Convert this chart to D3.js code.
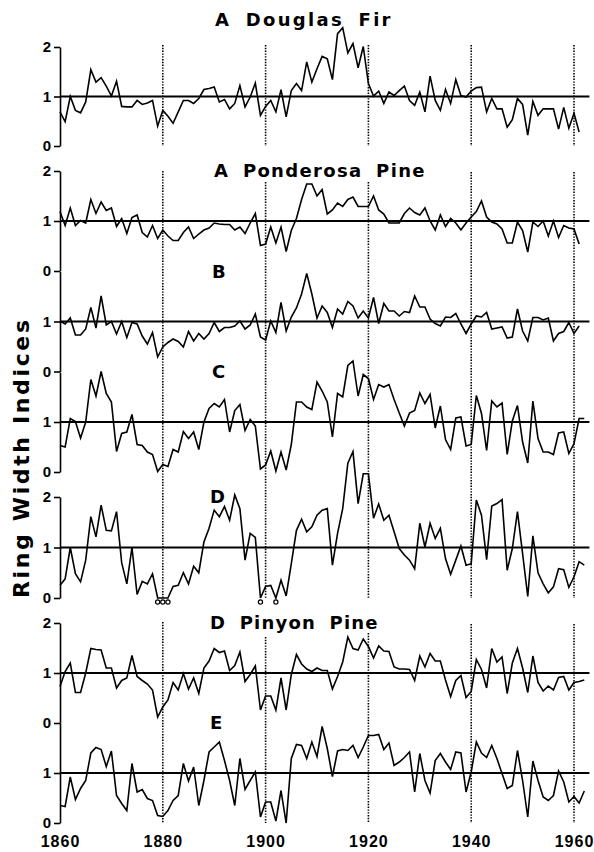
<!DOCTYPE html>
<html>
<head>
<meta charset="utf-8">
<style>
  * { margin: 0; padding: 0; }
  body { background: #fff; }
  svg text { fill: #000; }
  .axis path, .axis line { stroke: #000; stroke-width: 1.6; }
  .axis text { font-family: 'Liberation Sans', sans-serif; font-size: 15px; font-weight: bold; }
  .years text { font-family: 'Liberation Sans', sans-serif; font-size: 16px; font-weight: bold; letter-spacing: 1px; }
  .series { fill: none; stroke: #000; stroke-width: 1.6; stroke-linejoin: miter; }
  .unity { stroke: #000; stroke-width: 1.9; }
  .decade { stroke: #000; stroke-width: 1.6; stroke-dasharray: 1.4,1.4; }
  .title { font-family: 'DejaVu Sans', sans-serif; font-size: 18px; font-weight: bold; letter-spacing: 1.5px; word-spacing: 6px; }
  .ylabel { font-family: 'DejaVu Sans', sans-serif; font-size: 22px; font-weight: bold; }
  .absent { fill: #fff; stroke: #000; stroke-width: 1.2; }
</style>
</head>
<body>
<div id="chart"></div>
<script src="https://cdn.jsdelivr.net/npm/d3@7"></script>
<script>
// ring width indices, one value per year starting 1860
const firstYear = 1860;

const douglasFirA = [
  0.69, 0.49, 1.00, 0.72, 0.67, 0.89, 1.54, 1.29, 1.38, 1.21,
  1.01, 1.31, 0.80, 0.79, 0.79, 0.92, 0.84, 0.87, 0.92, 0.40,
  0.72, 0.60, 0.46, 0.69, 0.92, 0.92, 0.86, 0.96, 1.14, 1.16,
  1.19, 0.89, 0.94, 0.75, 0.86, 1.22, 0.79, 0.99, 1.27, 0.62,
  0.80, 0.92, 0.69, 1.14, 0.59, 1.12, 1.26, 1.12, 1.70, 1.29,
  1.56, 1.81, 1.76, 1.34, 2.27, 2.39, 1.88, 2.07, 1.58, 2.01,
  1.26, 1.01, 1.11, 0.86, 1.09, 1.02, 1.12, 1.21, 0.92, 0.82,
  1.09, 0.69, 1.41, 0.92, 0.72, 1.14, 0.86, 1.34, 1.02, 0.99,
  1.11, 1.18, 1.19, 0.69, 0.96, 0.75, 0.75, 0.38, 0.53, 0.96,
  0.84, 0.22, 0.90, 0.62, 0.75, 0.75, 0.75, 0.34, 0.78, 0.36,
  0.66, 0.28
];

const ponderosaA = [
  1.19, 0.91, 1.26, 0.91, 1.01, 0.96, 1.43, 1.15, 1.38, 1.21,
  1.26, 0.89, 1.05, 0.75, 1.07, 1.12, 0.77, 0.68, 0.91, 0.65,
  0.82, 0.70, 0.61, 0.61, 0.77, 0.88, 0.65, 0.74, 0.82, 0.86,
  0.96, 0.94, 0.93, 0.93, 0.82, 0.88, 0.75, 0.96, 1.15, 0.51,
  0.54, 0.88, 0.56, 0.88, 0.39, 0.81, 1.05, 1.43, 1.74, 1.74,
  1.50, 1.63, 1.14, 1.22, 1.36, 1.29, 1.43, 1.48, 1.29, 1.29,
  1.29, 1.50, 1.22, 1.14, 0.96, 0.96, 0.96, 1.15, 1.26, 1.17,
  1.12, 1.26, 1.00, 0.82, 1.12, 0.89, 1.05, 0.96, 0.82, 0.96,
  1.08, 1.19, 1.40, 1.08, 0.98, 0.94, 0.84, 0.56, 0.56, 0.98,
  0.81, 0.38, 0.98, 0.89, 1.00, 0.70, 1.00, 0.67, 0.91, 0.86,
  0.84, 0.54
];

const ponderosaB = [
  1.01, 0.95, 1.07, 0.73, 0.73, 0.85, 1.28, 0.87, 1.51, 0.93,
  1.00, 0.75, 1.00, 0.68, 0.98, 0.95, 0.71, 0.55, 0.78, 0.29,
  0.49, 0.58, 0.65, 0.60, 0.49, 0.80, 0.61, 0.76, 0.65, 0.76,
  0.98, 0.80, 0.88, 0.88, 0.91, 1.01, 0.85, 0.93, 1.15, 0.69,
  0.63, 1.01, 0.78, 1.38, 0.81, 1.09, 1.27, 1.55, 1.96, 1.55,
  1.07, 1.31, 1.18, 0.88, 1.25, 1.15, 1.40, 1.31, 1.07, 1.21,
  1.07, 1.48, 0.96, 1.36, 1.21, 1.21, 1.11, 1.20, 1.18, 1.51,
  1.29, 1.29, 1.05, 0.96, 0.91, 1.09, 1.08, 1.16, 0.95, 0.76,
  0.95, 1.11, 1.09, 1.18, 0.85, 0.87, 0.89, 0.67, 0.69, 1.25,
  0.81, 0.61, 1.08, 1.08, 1.03, 1.07, 0.61, 0.76, 0.80, 0.98,
  0.76, 0.91
];

const ponderosaC = [
  0.53, 0.50, 1.07, 1.01, 0.68, 1.00, 1.85, 1.52, 2.01, 1.57,
  1.40, 0.41, 0.77, 0.80, 1.15, 0.55, 0.53, 0.40, 0.35, 0.01,
  0.15, 0.11, 0.45, 0.40, 0.81, 0.67, 0.80, 0.45, 1.00, 1.27,
  1.37, 1.30, 1.45, 0.80, 1.23, 1.35, 0.83, 1.05, 0.92, 0.06,
  0.14, 0.42, 0.02, 0.40, 0.04, 0.55, 1.40, 1.40, 1.30, 1.25,
  1.80, 1.62, 1.40, 0.70, 1.57, 1.50, 2.13, 2.22, 1.52, 1.95,
  1.87, 1.45, 1.75, 1.70, 1.75, 1.45, 1.18, 0.92, 1.18, 1.23,
  1.58, 1.37, 1.55, 0.88, 1.32, 0.65, 0.45, 1.08, 1.10, 0.52,
  0.55, 1.53, 1.17, 0.43, 1.42, 1.30, 1.38, 0.35, 1.02, 1.33,
  0.60, 0.18, 1.42, 0.67, 0.40, 0.40, 0.35, 0.78, 0.80, 0.37,
  0.57, 1.07, 1.07
];

const ponderosaD = [
  0.25, 0.38, 1.00, 0.48, 0.32, 0.75, 1.61, 1.21, 1.84, 1.34,
  1.33, 1.71, 0.70, 0.28, 1.00, 0.07, 0.33, 0.28, 0.48, 0.00,
  0.00, 0.00, 0.23, 0.25, 0.50, 0.28, 0.63, 0.50, 1.11, 1.38,
  1.74, 1.61, 1.81, 1.54, 2.04, 1.77, 0.75, 1.28, 1.20, 0.00,
  0.23, 0.25, 0.00, 0.35, 0.04, 0.68, 1.34, 1.56, 1.31, 1.41,
  1.64, 1.74, 1.77, 0.65, 1.28, 1.77, 2.67, 2.90, 1.87, 2.46,
  2.46, 1.58, 1.86, 1.54, 1.64, 1.31, 0.98, 0.85, 0.75, 0.58,
  1.48, 1.01, 1.48, 1.18, 1.38, 0.78, 0.47, 0.75, 1.03, 0.65,
  0.68, 1.94, 1.64, 0.76, 1.82, 1.87, 1.95, 0.55, 0.98, 1.71,
  0.88, 0.03, 1.23, 0.50, 0.28, 0.10, 0.22, 0.58, 0.56, 0.21,
  0.42, 0.72, 0.65
];

const pinyonD = [
  0.73, 1.03, 1.20, 0.61, 0.61, 1.00, 1.49, 1.47, 1.46, 1.10,
  1.10, 0.70, 0.85, 0.90, 1.35, 0.93, 0.85, 0.78, 0.66, 0.12,
  0.32, 0.46, 0.81, 0.66, 0.99, 0.68, 0.90, 0.59, 1.10, 1.24,
  1.49, 1.41, 1.44, 1.05, 1.15, 1.42, 0.83, 0.97, 1.14, 0.26,
  0.54, 0.54, 0.26, 0.90, 0.26, 0.97, 1.37, 1.18, 1.08, 1.03,
  1.10, 1.05, 1.05, 0.68, 0.93, 1.22, 1.72, 1.49, 1.46, 1.68,
  1.53, 1.30, 1.54, 1.44, 1.43, 1.12, 1.08, 1.08, 1.07, 0.85,
  1.34, 1.12, 1.39, 1.24, 1.24, 0.86, 0.53, 0.85, 0.95, 0.51,
  0.63, 1.27, 1.07, 0.70, 1.49, 1.22, 1.32, 0.59, 1.20, 1.49,
  1.10, 0.61, 1.34, 0.81, 0.64, 0.74, 0.66, 0.91, 0.93, 0.66,
  0.81, 0.83, 0.86
];

const pinyonE = [
  0.35, 0.33, 0.92, 0.47, 0.69, 0.85, 1.40, 1.51, 1.47, 1.13,
  1.44, 0.55, 0.39, 0.25, 1.19, 0.62, 0.67, 0.49, 0.45, 0.15,
  0.13, 0.25, 0.45, 0.55, 1.19, 0.84, 1.12, 0.35, 0.85, 1.42,
  1.52, 1.62, 1.25, 0.85, 0.35, 1.29, 0.67, 0.85, 1.02, 0.12,
  0.42, 0.42, 0.04, 0.65, 0.00, 1.29, 1.57, 1.55, 1.29, 1.62,
  1.33, 1.93, 1.49, 0.93, 1.44, 1.47, 1.45, 1.55, 1.31, 1.52,
  1.75, 1.75, 1.77, 1.47, 1.60, 1.15, 1.22, 1.31, 1.42, 0.62,
  1.39, 0.85, 0.60, 1.25, 1.39, 1.22, 1.07, 1.42, 1.40, 0.62,
  1.02, 1.62, 1.40, 1.31, 1.55, 1.29, 0.99, 0.69, 0.75, 1.45,
  0.85, 0.12, 1.24, 0.85, 0.52, 0.45, 0.55, 1.04, 0.82, 0.42,
  0.53, 0.40, 0.64
];

const decadeYears = [1880, 1900, 1920, 1940, 1960];
const xTickYears = [1860, 1880, 1900, 1920, 1940, 1960];
// years with a missing ring in series D (drawn as small circles)
const absentRingYears = [1879, 1880, 1881, 1899, 1902];

const width = 594, height = 852;

const svg = d3.select('#chart').append('svg')
  .attr('width', width)
  .attr('height', height);

const x = d3.scaleLinear().domain([1860, 1960]).range([60, 574]);

// zero: pixel row of index 0, unit: pixels per index unit
const panels = [
  {values: douglasFirA, zero: 146,   unit: 49.5, ticks: [0, 1, 2]},
  {values: ponderosaA,  zero: 271,   unit: 50,   ticks: [0, 1, 2]},
  {values: ponderosaB,  zero: 371.5, unit: 50,   ticks: [0, 1]},
  {values: ponderosaC,  zero: 472,   unit: 50,   ticks: [0, 1]},
  {values: ponderosaD,  zero: 598,   unit: 50.5, ticks: [0, 1, 2]},
  {values: pinyonD,     zero: 723,   unit: 50,   ticks: [0, 1, 2]},
  {values: pinyonE,     zero: 823,   unit: 50,   ticks: [0, 1]}
];

panels.forEach(function(p) {
  p.y = d3.scaleLinear().domain([0, 2]).range([p.zero, p.zero - 2 * p.unit]);
});

// dotted year lines, top/bottom per group
const groups = [
  {tops: [45, 45, 45, 45, 45],      bottom: 146},
  {tops: [171, 182, 182, 172, 172], bottom: 598},
  {tops: [622, 637, 633, 624, 624], bottom: 823}
];

groups.forEach(function(g) {
  svg.append('g').selectAll('line')
    .data(decadeYears)
    .enter().append('line')
    .attr('class', 'decade')
    .attr('x1', d => x(d)).attr('x2', d => x(d))
    .attr('y1', (d, i) => g.tops[i])
    .attr('y2', g.bottom);
});

const line = d3.line()
  .x((d, i) => x(firstYear + i))
  .y(d => 0);

panels.forEach(function(p) {
  svg.append('line')
    .attr('class', 'unity')
    .attr('x1', x(1860)).attr('x2', x(1963))
    .attr('y1', p.y(1)).attr('y2', p.y(1));

  svg.append('path')
    .datum(p.values)
    .attr('class', 'series')
    .attr('d', line.y(d => p.y(d)));

  svg.append('g')
    .attr('class', 'axis')
    .attr('transform', 'translate(' + x(1860) + ',0)')
    .call(d3.axisLeft(p.y)
      .tickValues(p.ticks)
      .tickFormat(d3.format('d'))
      .tickSize(6)
      .tickSizeOuter(0)
      .tickPadding(3));
});

// missing rings under D
const dScale = panels[4].y;
svg.append('g').selectAll('circle')
  .data(absentRingYears)
  .enter().append('circle')
  .attr('class', 'absent')
  .attr('cx', d => x(d))
  .attr('cy', dScale(0) + 4)
  .attr('r', 2.1);

// panel labels; len = printed width in the reference (0 = natural)
const labels = [
  {text: 'A Douglas Fir',    x: 215, y: 19.5, len: 177},
  {text: 'A Ponderosa Pine', x: 214, y: 171,  len: 212},
  {text: 'B',                x: 212, y: 271.5, len: 0},
  {text: 'C',                x: 212, y: 371.5, len: 0},
  {text: 'D',                x: 210, y: 497,  len: 0},
  {text: 'D Pinyon Pine',    x: 210, y: 623,  len: 169},
  {text: 'E',                x: 210, y: 723,  len: 0}
];

svg.append('g').selectAll('text')
  .data(labels)
  .enter().append('text')
  .attr('class', 'title')
  .attr('x', d => d.x)
  .attr('y', d => d.y)
  .attr('dy', '0.36em')
  .attr('textLength', d => d.len || null)
  .attr('lengthAdjust', 'spacing')
  .text(d => d.text);

// x axis year labels
const xAxis = svg.append('g')
  .attr('class', 'years')
  .attr('transform', 'translate(0,835)')
  .call(d3.axisBottom(x)
    .tickValues(xTickYears)
    .tickFormat(d3.format('d'))
    .tickSize(0)
    .tickPadding(0));
xAxis.select('.domain').remove();
xAxis.selectAll('text').attr('dy', '0.75em');

svg.append('text')
  .attr('class', 'ylabel')
  .attr('transform', 'translate(29,459) rotate(-90)')
  .attr('text-anchor', 'middle')
  .attr('textLength', 278)
  .attr('lengthAdjust', 'spacing')
  .text('Ring Width Indices');
</script>
</body>
</html>
